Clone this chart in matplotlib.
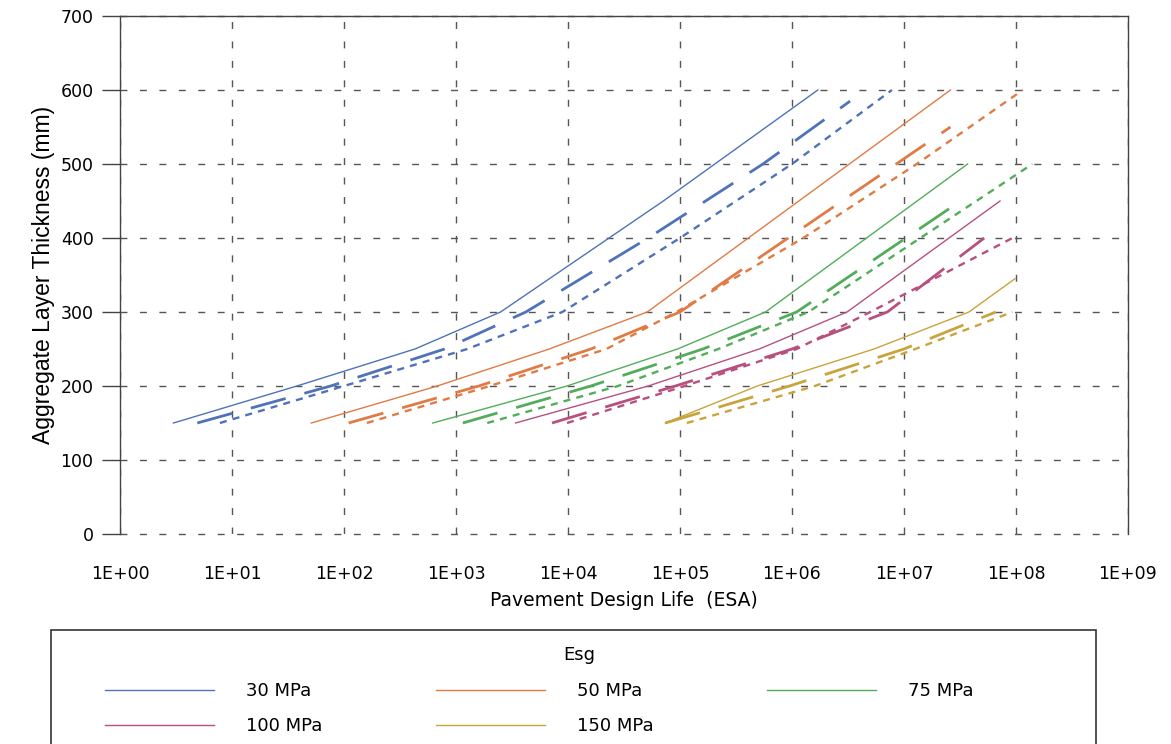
import numpy as np
import matplotlib.pyplot as plt
from matplotlib.patches import Rectangle
from matplotlib.ticker import FixedLocator, FixedFormatter, NullLocator

# Esg series and colours
moduli = ["30 MPa", "50 MPa", "75 MPa", "100 MPa", "150 MPa"]
colors = ["#4f72b8", "#e07b45", "#52ad5a", "#b8507f", "#c9a43c"]

# each modulus has three curves: solid, long dash, short dash
# ESA values (x) and aggregate layer thickness in mm (y)
esa_30_solid = [3.0, 38, 430, 2.5e3, 7.1e4, 1.7e6]
thk_30_solid = [150, 200, 250, 300, 450, 600]
esa_30_long = [4.9, 76, 790, 4.2e3, 5.2e4, 5.5e5, 3.3e6]
thk_30_long = [150, 200, 250, 300, 400, 500, 585]
esa_30_short = [7.8, 100, 1.26e3, 8.9e3, 1.0e5, 1.0e6, 7.8e6]
thk_30_short = [150, 200, 250, 300, 400, 500, 600]

esa_50_solid = [51, 680, 6.8e3, 5.1e4, 2.6e7]
thk_50_solid = [150, 200, 250, 300, 600]
esa_50_long = [110, 1.6e3, 1.6e4, 1.0e5, 2.8e6, 2.6e7]
thk_50_long = [150, 200, 250, 300, 450, 550]
esa_50_short = [160, 2.0e3, 2.2e4, 9.3e4, 1.26e6, 1.3e7, 1.15e8]
thk_50_short = [150, 200, 250, 300, 400, 500, 600]

esa_75_solid = [620, 9.8e3, 9.5e4, 5.8e5, 3.7e7]
thk_75_solid = [150, 200, 250, 300, 500]
esa_75_long = [1.15e3, 1.6e4, 1.6e5, 1.1e6, 3.2e7]
thk_75_long = [150, 200, 250, 300, 450]
esa_75_short = [1.9e3, 2.8e4, 2.2e5, 1.4e6, 1.4e8]
thk_75_short = [150, 200, 250, 300, 500]

esa_100_solid = [3.4e3, 5.2e4, 5.1e5, 3.1e6, 7.2e7]
thk_100_solid = [150, 200, 250, 300, 450]
esa_100_long = [7.2e3, 9.1e4, 1.0e6, 7.1e6, 5.2e7]
thk_100_long = [150, 200, 250, 300, 400]
esa_100_short = [9.8e3, 1.1e5, 1.1e6, 5.0e6, 9.3e7]
thk_100_short = [150, 200, 250, 300, 400]

esa_150_solid = [7.4e4, 4.9e5, 5.4e6, 3.8e7, 9.8e7]
thk_150_solid = [150, 200, 250, 300, 345]
esa_150_long = [7.4e4, 9.5e5, 1.0e7, 6.6e7]
thk_150_long = [150, 200, 250, 300]
esa_150_short = [1.15e5, 1.6e6, 1.26e7, 9.3e7]
thk_150_short = [150, 200, 250, 300]

x_ticks = [1e0, 1e1, 1e2, 1e3, 1e4, 1e5, 1e6, 1e7, 1e8, 1e9]
x_tick_labels = ["1E+00", "1E+01", "1E+02", "1E+03", "1E+04",
                 "1E+05", "1E+06", "1E+07", "1E+08", "1E+09"]
y_ticks = [0, 100, 200, 300, 400, 500, 600, 700]


def plot_curves(ax):
    """Draws the three curves for every modulus and returns legend handles"""
    series = [
        ((esa_30_solid, thk_30_solid), (esa_30_long, thk_30_long), (esa_30_short, thk_30_short)),
        ((esa_50_solid, thk_50_solid), (esa_50_long, thk_50_long), (esa_50_short, thk_50_short)),
        ((esa_75_solid, thk_75_solid), (esa_75_long, thk_75_long), (esa_75_short, thk_75_short)),
        ((esa_100_solid, thk_100_solid), (esa_100_long, thk_100_long), (esa_100_short, thk_100_short)),
        ((esa_150_solid, thk_150_solid), (esa_150_long, thk_150_long), (esa_150_short, thk_150_short)),
    ]
    handles = []
    for (solid, long_dash, short_dash), color, label in zip(series, colors, moduli):
        h, = ax.plot(*solid, color=color, lw=1.0, label=label)
        ax.plot(*long_dash, color=color, lw=2.0, dashes=(13, 7))
        ax.plot(*short_dash, color=color, lw=1.7, dashes=(3, 2.6))
        handles.append(h)
    return handles


fig = plt.figure(figsize=(11.71, 7.44), dpi=100)
ax = fig.add_axes([120 / 1171, 1 - 534 / 744, 1008 / 1171, 518 / 744])

handles = plot_curves(ax)

ax.set_xscale("log")
ax.set_xlim(1, 1e9)
ax.set_ylim(0, 700)
ax.xaxis.set_major_locator(FixedLocator(x_ticks))
ax.xaxis.set_major_formatter(FixedFormatter(x_tick_labels))
ax.xaxis.set_minor_locator(NullLocator())
ax.set_yticks(y_ticks)

ax.grid(True, color="#555555", linestyle=(0, (5, 9)), linewidth=1.0)
ax.set_axisbelow(True)
for line in ax.get_ygridlines():
    line.set_clip_on(False)
ax.spines["bottom"].set_visible(False)
for side in ["left", "top", "right"]:
    ax.spines[side].set_color("#444444")
    ax.spines[side].set_linewidth(1.0)

ax.tick_params(axis="x", length=0, pad=22, labelsize=12.5)
ax.tick_params(axis="y", length=13, width=1.0, color="#444444", pad=6, labelsize=12.5)
for lbl in ax.get_xticklabels() + ax.get_yticklabels():
    lbl.set_family("DejaVu Sans")

ax.set_xlabel("Pavement Design Life  (ESA)", family="DejaVu Sans", fontsize=13.5, labelpad=6)
ax.set_ylabel("Aggregate Layer Thickness (mm)", family=["Liberation Sans Narrow", "Liberation Sans"],
              fontsize=16.5, labelpad=4)

# legend box, cut off by the bottom of the picture
fig.add_artist(Rectangle((51 / 1171, -0.05), 1045 / 1171, 114 / 744 + 0.05,
                         transform=fig.transFigure, fill=False, ec="#333333", lw=1.2))
fig.text(579 / 1171, 1 - 655 / 744, "Esg", ha="center", va="center",
         family="DejaVu Sans", fontsize=13)
order = [0, 3, 1, 4, 2]
leg = fig.legend([handles[i] for i in order], [moduli[i] for i in order], ncol=3,
                 loc="upper left", bbox_to_anchor=(89 / 1171, 1 - 666 / 744), frameon=False,
                 handlelength=6.0, handletextpad=1.8, columnspacing=6.3,
                 labelspacing=0.95, prop={"family": "DejaVu Sans", "size": 13})

fig.savefig("out.png", dpi=100)
